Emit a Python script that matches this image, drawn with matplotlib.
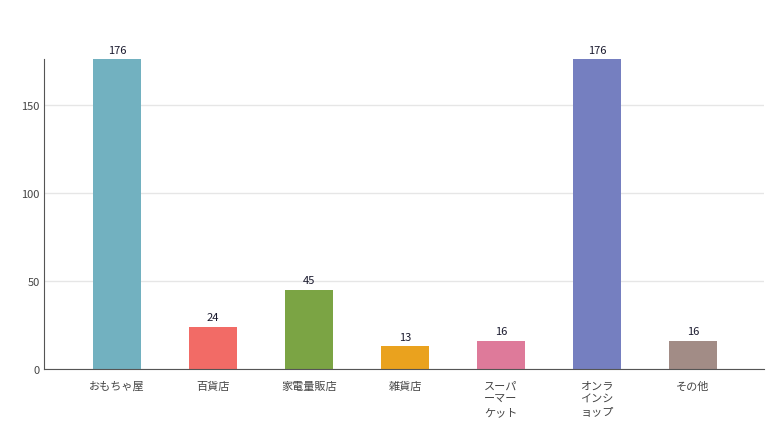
import matplotlib
matplotlib.use('Agg')
import matplotlib.pyplot as plt
import numpy as np

plt.rcParams['font.family'] = ['Noto Sans CJK JP', 'DejaVu Sans']

categories = ['おもちゃ屋', '百貨店', '家電量販店', '雑貨店', 'スーパ\nーマー\nケット', 'オンラ\nインシ\nョップ', 'その他']
values = [176, 24, 45, 13, 16, 176, 16]
colors = ['#72b1c0', '#f26b66', '#7ba444', '#eaa21e', '#de7a9a', '#757fc0', '#a28c86']

fig = plt.figure(figsize=[7.72, 4.39], dpi=100)
ax = fig.add_axes([44/772., 69/439., 720/772., 310/439.])

x = np.arange(len(categories))
bars = ax.bar(x, values, width=0.5, color=colors, zorder=2)
for xi, v in zip(x, values):
	ax.text(xi, v + 2.5, str(v), ha='center', va='bottom', fontsize=8, color='#1a1a2e')

# category labels, one text per line so the line spacing stays even
for xi, lab in zip(x, categories):
	for k, line in enumerate(lab.split('\n')):
		ax.annotate(line, xy=(xi, 0), xycoords=('data', 'axes fraction'),
			xytext=(0, -20 - 13*k), textcoords='offset pixels',
			ha='center', va='baseline', fontsize=8, color='#444444')

ax.set_xlim(-0.76, 6.74)
ax.set_ylim(0, 176)
ax.set_yticks([0, 50, 100, 150])
ax.set_xticks(x)
ax.set_xticklabels([])
ax.tick_params(axis='both', length=0, colors='#444444', labelsize=8)
ax.tick_params(axis='y', pad=3)
ax.grid(axis='y', color='#e6e6e6', linewidth=1, zorder=0)
ax.spines['top'].set_visible(False)
ax.spines['right'].set_visible(False)
ax.spines['left'].set_color('#555555')
ax.spines['bottom'].set_color('#555555')

plt.savefig('out.png', facecolor='w', edgecolor='w')
